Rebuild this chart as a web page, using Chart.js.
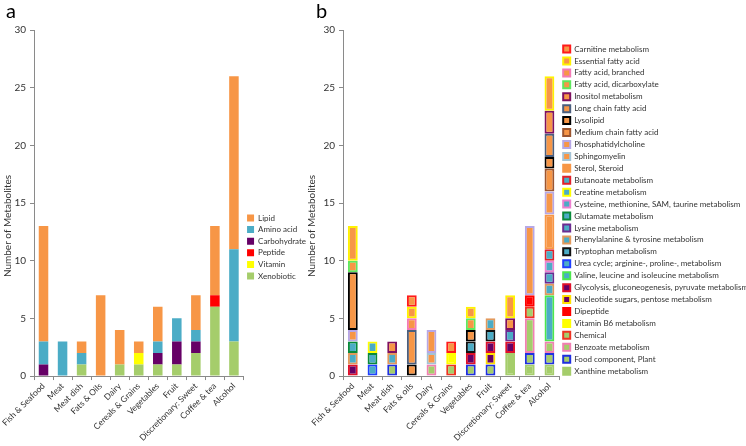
<!DOCTYPE html>
<html>
<head>
<meta charset="utf-8">
<script src="https://cdn.jsdelivr.net/npm/chart.js@4.4.0/dist/chart.umd.min.js"></script>
<style>
  html, body { margin: 0; padding: 0; background: #fff; overflow: hidden; }
  #wrap { position: relative; width: 746px; height: 446px; overflow: hidden; }
  canvas { position: absolute; top: 0; }
  #chartA { left: 0; }
  #chartB { left: 308px; }
</style>
</head>
<body>
<div id="wrap">
  <canvas id="chartA" width="316" height="446"></canvas>
  <canvas id="chartB" width="450" height="446"></canvas>
</div>
<script>
// food groups (x axis)
const foodsA = ['Fish & Seafood', 'Meat', 'Meat dish', 'Fats & Oils', 'Dairy', 'Cereals & Grains',
  'Vegetables', 'Fruit', 'Discretionary: Sweet', 'Coffee & tea', 'Alcohol'];
const foodsB = ['Fish & Seafood', 'Meat', 'Meat dish', 'Fats & oils', 'Dairy', 'Cereals & Grains',
  'Vegetables', 'Fruit', 'Discretionary: Sweet', 'Coffee & tea', 'Alcohol'];
const yTicks = [0, 5, 10, 15, 20, 25, 30];

// panel a - super pathways
const xenobiotic   = [0, 0, 1, 0, 1, 1, 1, 1, 2, 6, 3];
const vitamin      = [0, 0, 0, 0, 0, 1, 0, 0, 0, 0, 0];
const peptide      = [0, 0, 0, 0, 0, 0, 0, 0, 0, 1, 0];
const carbohydrate = [1, 0, 0, 0, 0, 0, 1, 2, 1, 0, 0];
const aminoAcid    = [2, 3, 1, 0, 0, 0, 1, 2, 1, 0, 8];
const lipid        = [10, 0, 1, 7, 3, 1, 3, 0, 3, 6, 15];

// panel b - sub pathways
const xanthine            = [0, 0, 0, 0, 0, 0, 0, 0, 2, 1, 1];
const foodComponentPlant  = [0, 0, 1, 0, 0, 0, 1, 1, 0, 1, 1];
const benzoate            = [0, 0, 0, 0, 1, 0, 0, 0, 0, 3, 1];
const chemical            = [0, 0, 0, 0, 0, 1, 0, 0, 0, 1, 0];
const vitaminB6           = [0, 0, 0, 0, 0, 1, 0, 0, 0, 0, 0];
const dipeptide           = [0, 0, 0, 0, 0, 0, 0, 0, 0, 1, 0];
const nucleotideSugars    = [0, 0, 0, 0, 0, 0, 0, 1, 0, 0, 0];
const glycolysis          = [1, 0, 0, 0, 0, 0, 1, 1, 1, 0, 0];
const valine              = [0, 0, 0, 0, 0, 0, 0, 0, 0, 0, 4];
const ureaCycle           = [0, 1, 0, 0, 0, 0, 0, 0, 0, 0, 0];
const tryptophan          = [0, 0, 0, 0, 0, 0, 1, 1, 0, 0, 0];
const phenylalanine       = [1, 0, 1, 0, 0, 0, 0, 1, 0, 0, 1];
const lysine              = [0, 0, 0, 0, 0, 0, 0, 0, 1, 0, 1];
const glutamate           = [1, 1, 0, 0, 0, 0, 0, 0, 0, 0, 0];
const cysteine            = [0, 0, 0, 0, 0, 0, 0, 0, 0, 0, 1];
const creatine            = [0, 1, 0, 0, 0, 0, 0, 0, 0, 0, 0];
const butanoate           = [0, 0, 0, 0, 0, 0, 0, 0, 0, 0, 1];
const sterol              = [0, 0, 0, 0, 0, 0, 0, 0, 0, 0, 3];
const sphingomyelin       = [0, 0, 0, 0, 1, 0, 0, 0, 0, 0, 0];
const phosphatidylcholine = [1, 0, 0, 0, 2, 0, 0, 0, 0, 6, 2];
const mediumChainFA       = [0, 0, 0, 0, 0, 0, 0, 0, 0, 0, 2];
const lysolipid           = [5, 0, 0, 1, 0, 0, 1, 0, 0, 0, 1];
const longChainFA         = [0, 0, 0, 3, 0, 0, 0, 0, 0, 0, 2];
const inositol            = [0, 0, 1, 0, 0, 0, 0, 0, 1, 0, 2];
const faDicarboxylate     = [1, 0, 0, 0, 0, 0, 1, 0, 0, 0, 0];
const faBranched          = [0, 0, 0, 1, 0, 0, 0, 0, 0, 0, 0];
const essentialFA         = [3, 0, 0, 1, 0, 0, 1, 0, 2, 0, 3];
const carnitine           = [0, 0, 0, 1, 0, 1, 0, 0, 0, 0, 0];

const FONT = 'Lato, "Liberation Sans", sans-serif';
const TEXT = '#333333';
const AXIS = '#8a8a8a';
const ORANGE = '#F79646', TEAL = '#4BACC6', PURPLE = '#660066',
      RED = '#FF0000', YELLOW = '#FFFF00', GREEN = '#A5CD6B';

// empty segments are left out
const clean = arr => arr.map(v => v || null);

// rotated y axis title, placed like the original (a little below the plot centre)
const sideTitle = {
    id: 'sideTitle',
    afterDraw(chart, args, opts) {
        const ctx = chart.ctx;
        ctx.save();
        ctx.translate(opts.x, opts.y);
        ctx.rotate(-Math.PI / 2);
        ctx.font = '10px ' + FONT;
        ctx.fillStyle = TEXT;
        ctx.textAlign = 'center';
        ctx.textBaseline = 'middle';
        ctx.fillText(opts.text, 0, 0);
        ctx.restore();
    }
};

const makeOptions = (letter, padLeft, axisWidth, titleX, legendTop, legendPad) => ({
    responsive: false,
    animation: false,
    devicePixelRatio: 1,
    events: [],
    layout: { padding: { left: padLeft, bottom: 2 } },
    scales: {
        x: {
            stacked: true,
            ticks: { autoSkip: false, minRotation: 45, maxRotation: 45, padding: 1,
                     color: TEXT, font: { family: FONT, size: 8.5 } },
            grid: { offset: true, drawOnChartArea: false, tickLength: 4, color: AXIS },
            border: { color: AXIS }
        },
        y: {
            stacked: true,
            min: 0,
            max: 30,
            afterBuildTicks: axis => { axis.ticks = yTicks.map(v => ({ value: v })); },
            afterFit: axis => { axis.width = axisWidth; },
            ticks: { padding: 4, color: TEXT, font: { family: FONT, size: 10 } },
            grid: { drawOnChartArea: false, tickLength: 4, color: AXIS },
            border: { color: AXIS }
        }
    },
    plugins: {
        tooltip: { enabled: false },
        sideTitle: { text: 'Number of Metabolites', x: titleX, y: 226 },
        title: { display: true, text: letter, align: 'start', color: '#000',
                 font: { family: FONT, size: 20, weight: 'normal' }, padding: { top: 0, bottom: 6 } },
        legend: {
            position: 'right',
            align: 'start',
            reverse: true,
            maxWidth: 260,
            title: { display: true, text: '', padding: { top: legendTop, bottom: 0 } },
            labels: { boxWidth: 7, boxHeight: 7, padding: legendPad, color: TEXT,
                      font: { family: FONT, size: 8 } }
        }
    }
});

// panel a
const superRows = [
    ['Xenobiotic', xenobiotic, GREEN],
    ['Vitamin', vitamin, YELLOW],
    ['Peptide', peptide, RED],
    ['Carbohydrate', carbohydrate, PURPLE],
    ['Amino acid', aminoAcid, TEAL],
    ['Lipid', lipid, ORANGE]
];

new Chart(document.getElementById('chartA'), {
    type: 'bar',
    data: {
        labels: foodsA,
        datasets: superRows.map(([label, values, color]) => ({
            label: label,
            data: clean(values),
            backgroundColor: color,
            borderWidth: 0,
            barPercentage: 0.5,
            categoryPercentage: 1.0
        }))
    },
    options: makeOptions('a', 6, 28, 8, 196, 3.6),
    plugins: [sideTitle]
});

// panel b: fill = super pathway, outline = sub pathway
const subRows = [
    ['Xanthine metabolism', xanthine, GREEN, GREEN],
    ['Food component, Plant', foodComponentPlant, GREEN, '#1F2FE0'],
    ['Benzoate metabolism', benzoate, GREEN, '#F27FB3'],
    ['Chemical', chemical, GREEN, '#EE3322'],
    ['Vitamin B6 metabolism', vitaminB6, YELLOW, YELLOW],
    ['Dipeptide', dipeptide, RED, RED],
    ['Nucleotide sugars, pentose metabolism', nucleotideSugars, PURPLE, '#FFE000'],
    ['Glycolysis, gluconeogenesis, pyruvate metabolism', glycolysis, PURPLE, '#E0102A'],
    ['Valine, leucine and isoleucine metabolism', valine, TEAL, '#4CE84C'],
    ['Urea cycle; arginine-, proline-, metabolism', ureaCycle, TEAL, '#1F3FFF'],
    ['Tryptophan metabolism', tryptophan, TEAL, '#111111'],
    ['Phenylalanine & tyrosine metabolism', phenylalanine, TEAL, '#E2995C'],
    ['Lysine metabolism', lysine, TEAL, '#6B2C91'],
    ['Glutamate metabolism', glutamate, TEAL, '#0A8A3A'],
    ['Cysteine, methionine, SAM, taurine metabolism', cysteine, TEAL, '#EE80D0'],
    ['Creatine metabolism', creatine, TEAL, '#FFFF00'],
    ['Butanoate metabolism', butanoate, TEAL, '#E0202A'],
    ['Sterol, Steroid', sterol, ORANGE, ORANGE],
    ['Sphingomyelin', sphingomyelin, ORANGE, '#A3C3D6'],
    ['Phosphatidylcholine', phosphatidylcholine, ORANGE, '#B6A7E6'],
    ['Medium chain fatty acid', mediumChainFA, ORANGE, '#9B5530'],
    ['Lysolipid', lysolipid, ORANGE, '#000000'],
    ['Long chain fatty acid', longChainFA, ORANGE, '#4A5E7E'],
    ['Inositol metabolism', inositol, ORANGE, '#7E1060'],
    ['Fatty acid, dicarboxylate', faDicarboxylate, ORANGE, '#5EE85E'],
    ['Fatty acid, branched', faBranched, ORANGE, '#F37AB6'],
    ['Essential fatty acid', essentialFA, ORANGE, '#FFF200'],
    ['Carnitine metabolism', carnitine, ORANGE, '#FF1A1A']
];

new Chart(document.getElementById('chartB'), {
    type: 'bar',
    data: {
        labels: foodsB,
        datasets: subRows.map(([label, values, fill, edge]) => ({
            label: label,
            data: clean(values),
            backgroundColor: fill,
            borderColor: edge,
            borderWidth: 2,
            borderSkipped: false,
            inflateAmount: 0,
            barPercentage: 0.5,
            categoryPercentage: 1.0
        }))
    },
    options: makeOptions('b', 8, 27, 4, 26.7, 3.93),
    plugins: [sideTitle]
});
</script>
</body>
</html>
